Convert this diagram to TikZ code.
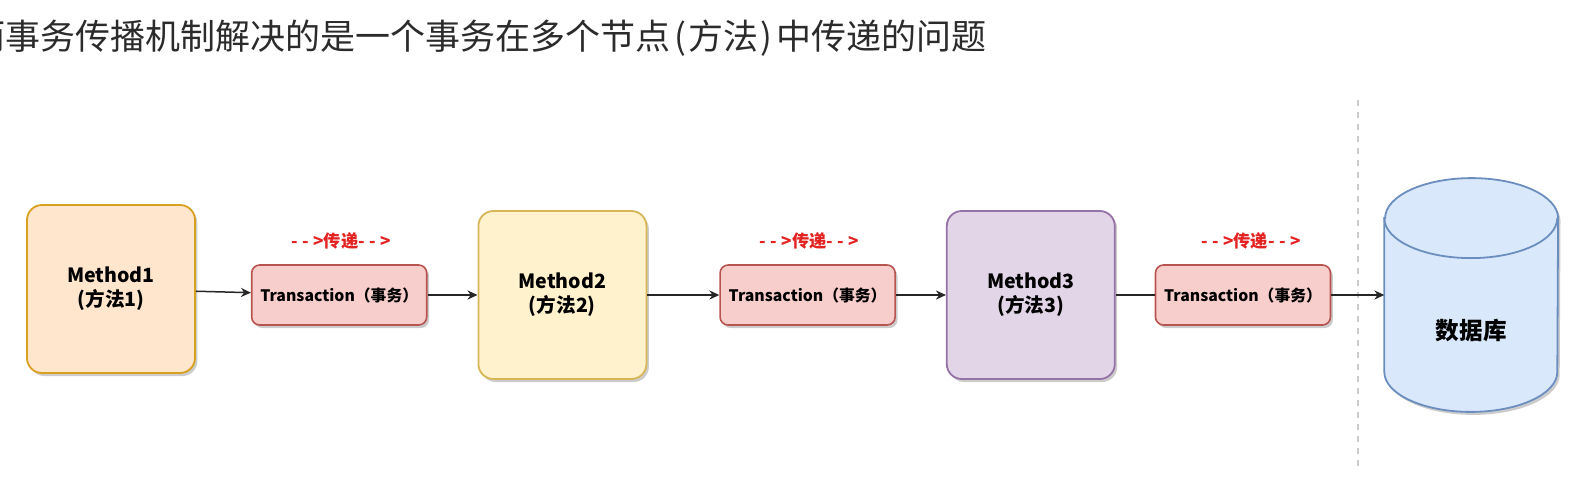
\documentclass[tikz,border=0pt]{standalone}
\usepackage{fontspec}
\newfontfamily\cjk{Noto Sans CJK SC}
\usetikzlibrary{arrows.meta,shapes,positioning,shadows,backgrounds}

\definecolor{m1fill}{HTML}{FFE6CC}
\definecolor{m1line}{HTML}{D9A020}
\definecolor{m2fill}{HTML}{FFF2CC}
\definecolor{m2line}{HTML}{D6B656}
\definecolor{m3fill}{HTML}{E1D5E7}
\definecolor{m3line}{HTML}{9673A6}
\definecolor{txfill}{HTML}{F8CECC}
\definecolor{txline}{HTML}{B85450}
\definecolor{dbfill}{HTML}{DAE8FC}
\definecolor{dbline}{HTML}{6C8EBF}
\definecolor{czerwony}{HTML}{E32222}
\definecolor{tytul}{HTML}{2B2B2B}

\newcommand{\strzalka}{-\kern2.2pt-\kern2.2pt>}

\begin{document}
\begin{tikzpicture}[x=0.5pt,y=-0.5pt,>={Stealth[length=5pt,width=4.6pt]},
  cien/.style={
  drop shadow={shadow xshift=1.2pt, shadow yshift=-1.5pt, opacity=0.2, fill=black}
  },
  metoda/.style={
  % The shape:
  rectangle,
  rounded corners=7.5pt,
  % The size:
  minimum width=84pt,
  minimum height=84pt,
  % The border:
  line width=0.9pt,
  cien,
  % Font
  font=\cjk\bfseries\fontsize{9.8pt}{12pt}\selectfont,
  align=center
  },
  transakcja/.style={
  % The shape:
  rectangle,
  rounded corners=4pt,
  % The size:
  minimum width=87.5pt,
  minimum height=30pt,
  inner xsep=1pt,
  % The border:
  line width=0.8pt,
  draw=txline,
  fill=txfill,
  cien,
  % Font
  font=\cjk\bfseries\fontsize{7.9pt}{9pt}\selectfont
  },
  przekaz/.style={
  inner sep=0pt,
  text=czerwony,
  font=\cjk\bfseries\fontsize{8.6pt}{9pt}\selectfont
  },
  baza/.style={
  rectangle,
  minimum width=86.5pt,
  minimum height=116.5pt
  },
  polaczenie/.style={line width=0.75pt, draw=black!85}
  ]
  \useasboundingbox (0,0) rectangle (1592,499);

  \node (tytul) [anchor=base west, inner sep=0pt, text=tytul,
    font=\cjk\fontsize{17.5pt}{20pt}\selectfont] at (-30,49)
    {而事务传播机制解决的是一个事务在多个节点\kern2pt(\kern1pt方法\kern1pt)\kern2pt中传递的问题};

  \node (M1) [metoda, draw=m1line, fill=m1fill] at (111,289) {Method1\\(方法1)};
  \node (T1) [transakcja, right=27.5pt of M1, yshift=-3pt] {Transaction（事务）};
  \node (M2) [metoda, draw=m2line, fill=m2fill, right=25pt of T1] {Method2\\(方法2)};
  \node (T2) [transakcja, right=36pt of M2] {Transaction（事务）};
  \node (M3) [metoda, draw=m3line, fill=m3fill, right=25pt of T2] {Method3\\(方法3)};
  \node (T3) [transakcja, right=19.5pt of M3] {Transaction（事务）};
  \node (db) [baza, right=26.5pt of T3] {};
  \node (dbnapis) [font=\cjk\bfseries\fontsize{11.8pt}{13pt}\selectfont]
    at ([yshift=-18pt]db.center) {数据库};

  \node (P1) [przekaz, above=7pt of T1, xshift=1pt] {\strzalka{}传递\strzalka};
  \node (P2) [przekaz, above=7pt of T2, xshift=1pt] {\strzalka{}传递\strzalka};
  \node (P3) [przekaz, above=7pt of T3, xshift=4pt] {\strzalka{}传递\strzalka};

  % database cylinder
  \begin{scope}[on background layer]
  \filldraw[fill=dbfill, draw=dbline, line width=0.9pt, cien]
    ([yshift=-20pt]db.north west) -- ([yshift=20pt]db.south west)
    arc[start angle=180, end angle=360, x radius=43.25pt, y radius=20pt]
    -- ([yshift=-20pt]db.north east)
    arc[start angle=0, end angle=180, x radius=43.25pt, y radius=20pt] -- cycle;
  \draw[draw=dbline, line width=0.9pt] ([yshift=-20pt]db.north west)
    arc[start angle=180, end angle=360, x radius=43.25pt, y radius=20pt];
  \end{scope}

  % separator
  \coordinate (sepA) at (1358,100);
  \coordinate (sepB) at (1358,470);
  \draw[black!20, line width=0.8pt, dash pattern=on 3pt off 3pt] (sepA) -- (sepB);

  \draw[->, polaczenie] (M1) to (T1);
  \draw[->, polaczenie] (T1) to (M2);
  \draw[->, polaczenie] (M2) to (T2);
  \draw[->, polaczenie] (T2) to (M3);
  \draw[polaczenie] (M3) to (T3);
  \draw[->, polaczenie] (T3) to (db);
\end{tikzpicture}
\end{document}
